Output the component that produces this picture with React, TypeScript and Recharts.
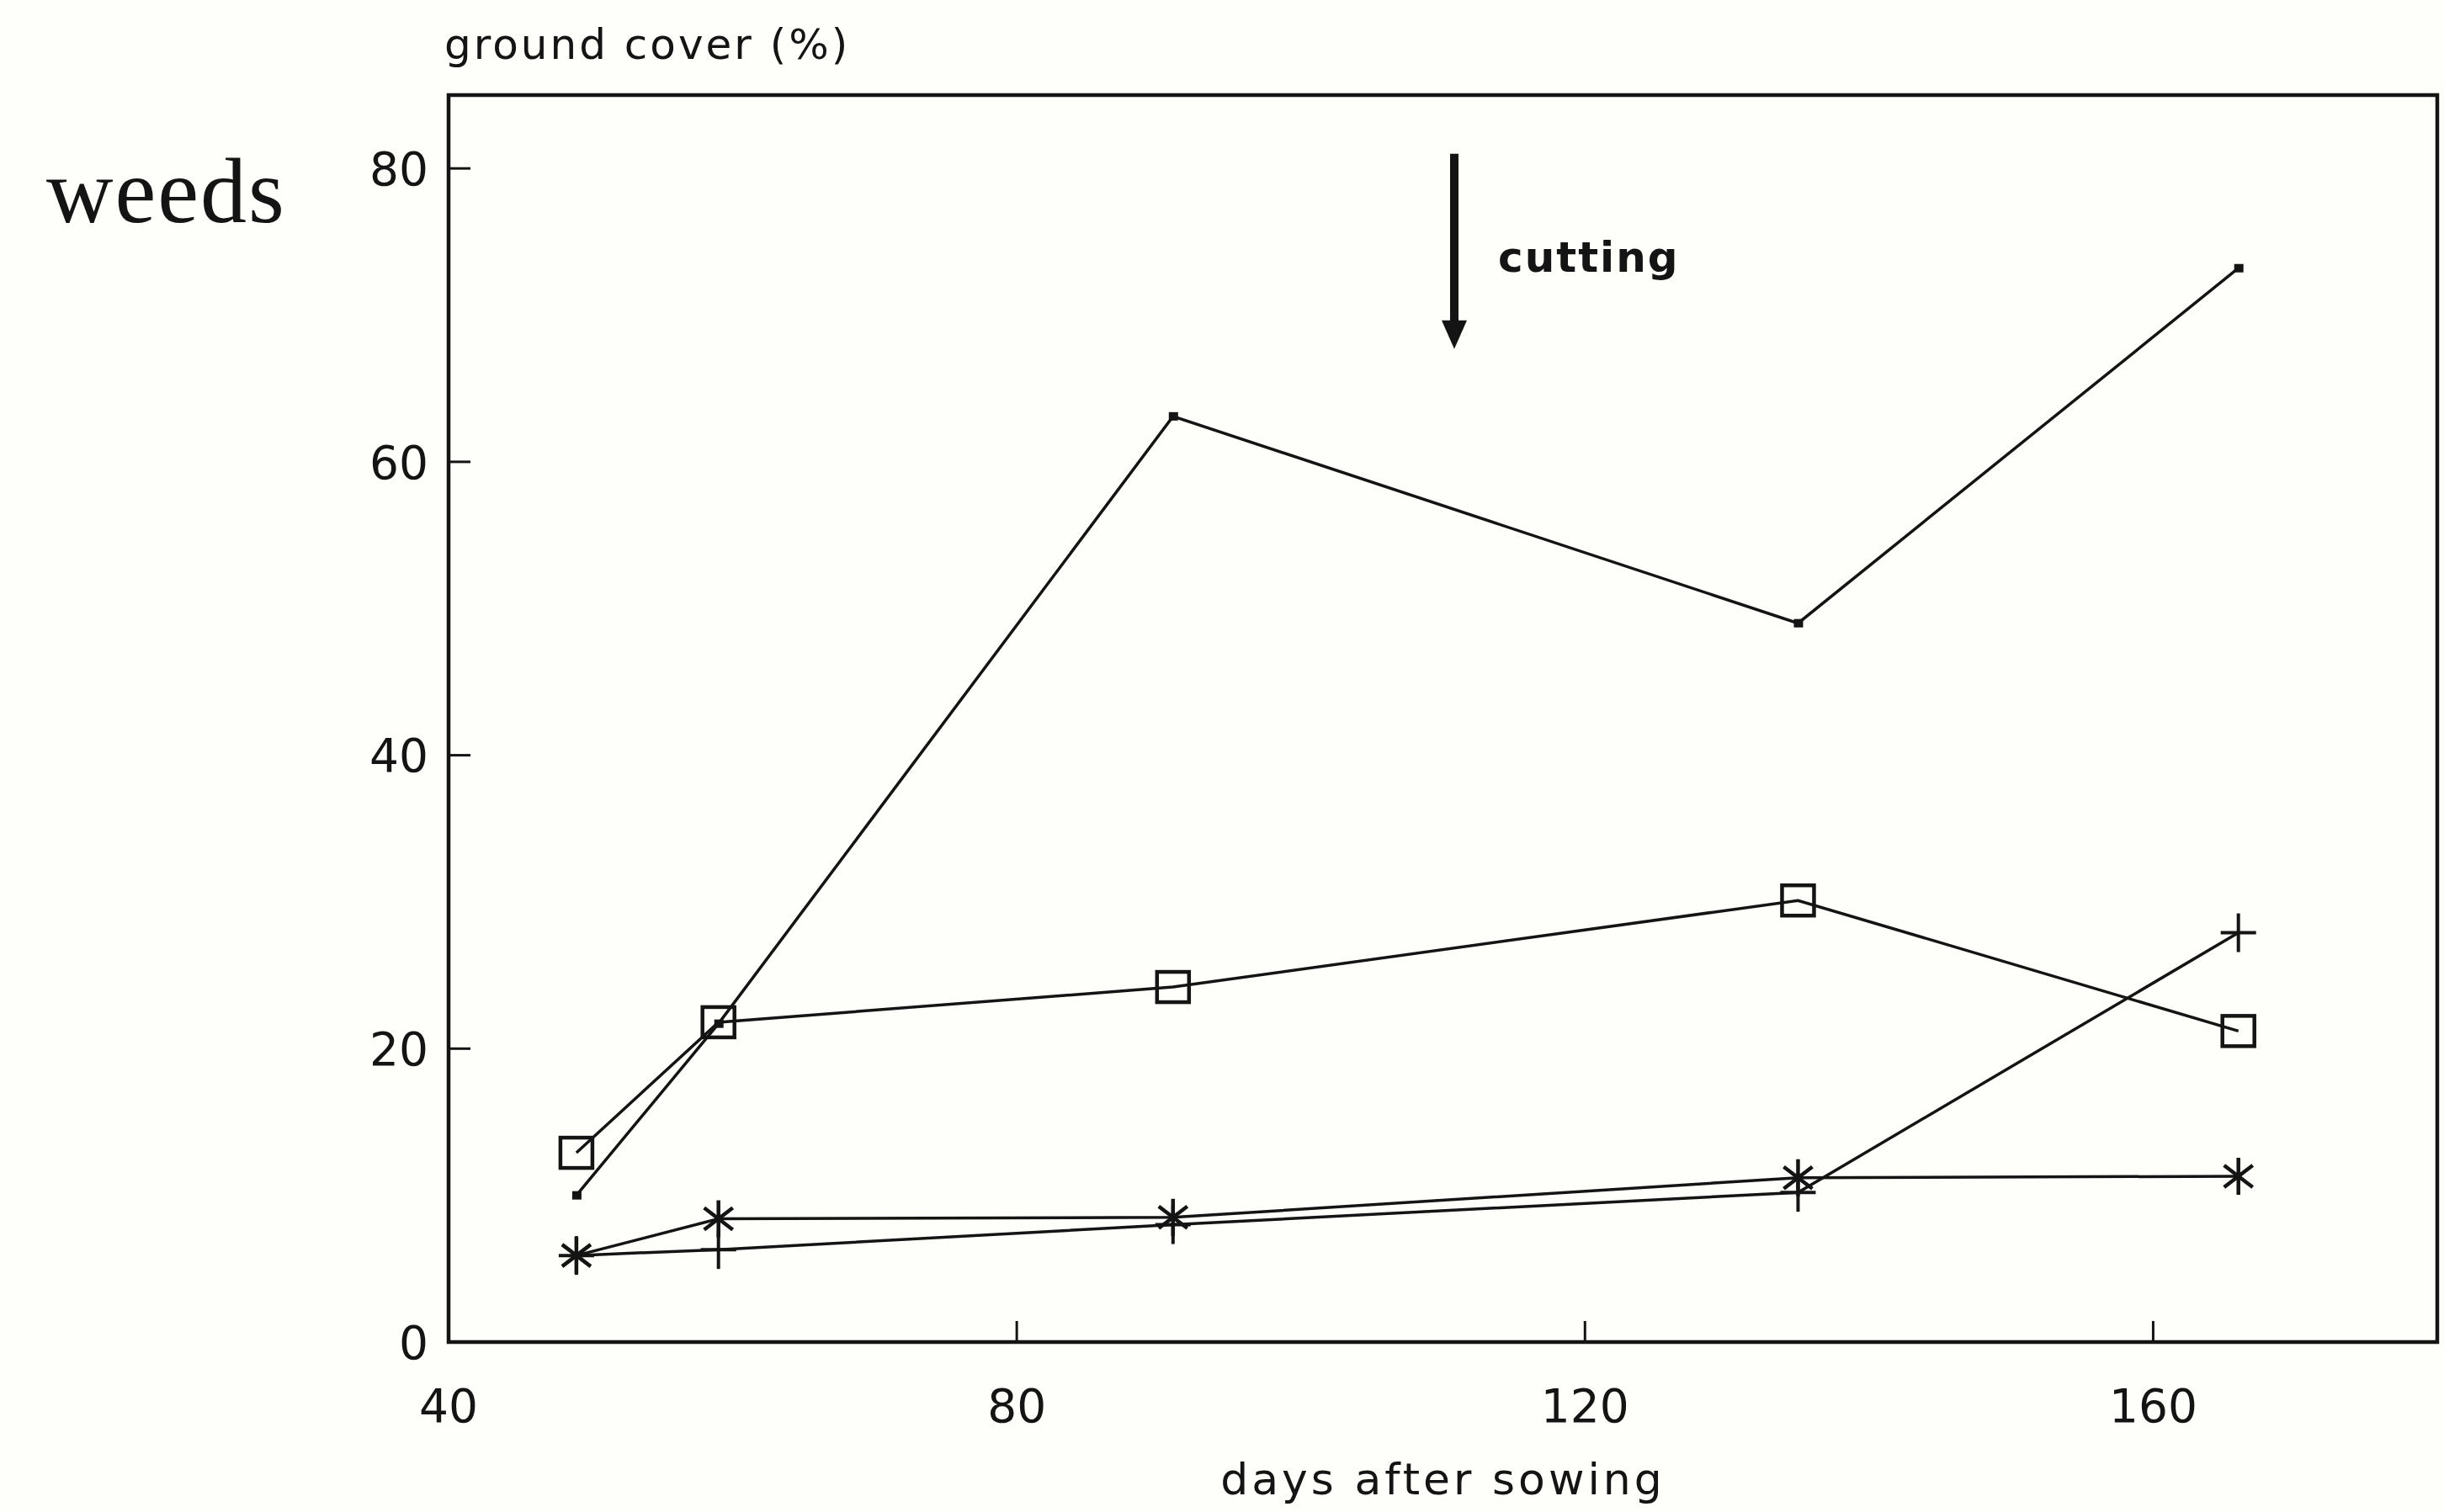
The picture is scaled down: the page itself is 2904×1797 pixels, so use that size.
import { LineChart, Line, XAxis, YAxis, ReferenceArea, ReferenceLine } from 'recharts'

// days after sowing at which ground cover was scored
const days = [49, 59, 91, 135, 166]
// ground cover of weeds (%) per treatment
const coverDot = [10.0, 21.7, 63.1, 49.0, 73.2]
const coverSquare = [12.9, 21.8, 24.2, 30.1, 21.2]
const coverStar = [5.9, 8.4, 8.5, 11.2, 11.3]
const coverPlus = [5.9, 6.3, 8.0, 10.2, 27.9]

const xTicks = [40, 80, 120, 160]
const yTicks = [0, 20, 40, 60, 80]
const cutDay = 110.8
const cutFrom = 81.0
const cutTo = 67.7

const data = days.map((d, i) => ({
  day: d, dot: coverDot[i], square: coverSquare[i], star: coverStar[i], plus: coverPlus[i],
}))

const ink = '#141414'
const paper = '#fefefa'
const sans = '"DejaVu Sans", sans-serif'

const YTick = ({ x, y, payload }: any) => (
  <g>
    <text x={x} y={y} dy="0.36em" textAnchor="end" fontFamily={sans} fontSize={55} fill={ink}>{payload.value}</text>
    <line x1={x + 24} x2={x + 50} y1={y} y2={y} stroke={ink} strokeWidth={3} />
  </g>
)

const XTick = ({ x, y, payload }: any) => (
  <g>
    <text x={x} y={y} textAnchor="middle" fontFamily={sans} fontSize={55} fill={ink}>{payload.value}</text>
    <line x1={x} x2={x} y1={y - 95} y2={y - 120} stroke={ink} strokeWidth={3} />
  </g>
)

const dotSmall = (p: any) => (
  <rect key={`d${p.index}`} x={p.cx - 5} y={p.cy - 5} width={11} height={10} fill={ink} />
)
const dotSquare = (p: any) => (
  <rect key={`s${p.index}`} x={p.cx - 19} y={p.cy - 18} width={38} height={36} fill="none" stroke={ink} strokeWidth={4.5} />
)
const dotStar = (p: any) => (
  <g key={`a${p.index}`} stroke={ink} strokeWidth={4.5}>
    <line x1={p.cx} x2={p.cx} y1={p.cy - 22} y2={p.cy + 22} />
    <line x1={p.cx - 17} x2={p.cx + 17} y1={p.cy - 13} y2={p.cy + 13} />
    <line x1={p.cx - 17} x2={p.cx + 17} y1={p.cy + 13} y2={p.cy - 13} />
  </g>
)
const dotPlus = (p: any) => (
  <g key={`p${p.index}`} stroke={ink} strokeWidth={4}>
    <line x1={p.cx} x2={p.cx} y1={p.cy - 23} y2={p.cy + 23} />
    <line x1={p.cx - 21} x2={p.cx + 21} y1={p.cy} y2={p.cy} />
  </g>
)

const CutArrow = (p: any) => {
  const { x1, y1, x2, y2 } = p
  return (
    <g>
      <line x1={x1} y1={y1} x2={x2} y2={y2 - 26} stroke={ink} strokeWidth={10} />
      <polygon points={`${x2 - 15},${y2 - 34} ${x2 + 15},${y2 - 34} ${x2},${y2}`} fill={ink} />
      <text x={x1 + 52} y={y1 + 140} fontFamily={sans} fontWeight="bold" fontSize={50} letterSpacing={2} fill={ink}>cutting</text>
    </g>
  )
}

export default function App() {
  return (
    <div style={{ position: 'absolute', left: 0, top: 0, width: 2904, height: 1797, background: paper }}>
      <LineChart width={2904} height={1797} data={data} margin={{ top: 113, right: 8, bottom: 42, left: 413 }}>
        <XAxis type="number" dataKey="day" domain={[40, 180]} ticks={xTicks} interval={0} allowDataOverflow
          axisLine={false} tickLine={false} tickSize={0} tickMargin={95} height={160} tick={XTick}
          label={{ value: 'days after sowing', position: 'insideBottom', offset: -21,
            fontFamily: sans, fontSize: 52, letterSpacing: 4, fill: ink }} />
        <YAxis type="number" domain={[0, 85]} ticks={yTicks} interval={0} allowDataOverflow
          axisLine={false} tickLine={false} tickSize={0} tickMargin={24} width={120} tick={YTick} />
        <ReferenceArea x1={40} x2={180} y1={0} y2={85} fill="none" stroke={ink} strokeWidth={4.5} ifOverflow="visible" />
        <ReferenceLine segment={[{ x: cutDay, y: cutFrom }, { x: cutDay, y: cutTo }]} shape={CutArrow} />
        <Line type="linear" dataKey="dot" stroke={ink} strokeWidth={3.5} dot={dotSmall} activeDot={false} isAnimationActive={false} />
        <Line type="linear" dataKey="square" stroke={ink} strokeWidth={3.5} dot={dotSquare} activeDot={false} isAnimationActive={false} />
        <Line type="linear" dataKey="star" stroke={ink} strokeWidth={3.5} dot={dotStar} activeDot={false} isAnimationActive={false} />
        <Line type="linear" dataKey="plus" stroke={ink} strokeWidth={3.5} dot={dotPlus} activeDot={false} isAnimationActive={false} />
      </LineChart>
      <svg width={2904} height={300} style={{ position: 'absolute', left: 0, top: 0, pointerEvents: 'none' }}>
        <text x={528} y={70} fontFamily={sans} fontSize={50} letterSpacing={3} fill={ink}>ground cover (%)</text>
        <text x={55} y={264} fontFamily='"Liberation Serif", serif' fontSize={110} letterSpacing={2} fill={ink}>weeds</text>
      </svg>
    </div>
  )
}
